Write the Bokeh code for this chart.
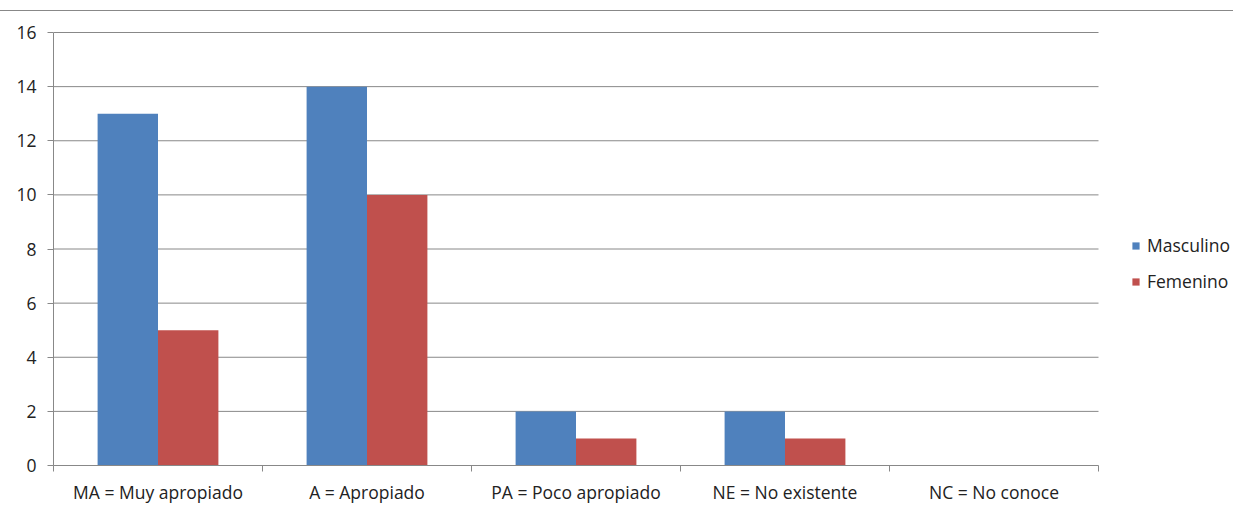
from bokeh.plotting import figure
from bokeh.models import FixedTicker, Legend, LegendItem, ColumnDataSource
from bokeh.transform import dodge
from bokeh.embed import file_html
from bokeh.resources import INLINE

categories = ["MA = Muy apropiado", "A = Apropiado", "PA = Poco apropiado",
              "NE = No existente", "NC = No conoce"]
masculino = [13, 14, 2, 2, 0]
femenino = [5, 10, 1, 1, 0]
series_names = ["Masculino", "Femenino"]
y_ticks = [0, 2, 4, 6, 8, 10, 12, 14, 16]

BLUE = "#4F81BD"
RED = "#C0504D"
GRID = "#888888"
TXT = "#222222"
FONT = "Open Sans"
FS = "17.5px"

n = len(categories)
PLOT_W, FRAME_L, FRAME_R = 1233, 53, 1098
# frame extends to the right edge so the legend (drawn inside the frame) is visible;
# the axis and grid stop at the last category.
x_end = n * (PLOT_W - FRAME_L) / (FRAME_R - FRAME_L)

centers = [i + 0.5 for i in range(n)]
src = ColumnDataSource(dict(x=centers, m=masculino, f=femenino))

p = figure(width=PLOT_W, height=495, output_backend="svg", toolbar_location=None,
           x_range=(0, x_end), y_range=(0, 16.037),
           min_border_left=FRAME_L, min_border_right=0, min_border_top=20,
           min_border_bottom=38)
p.outline_line_color = None
p.background_fill_color = "white"
p.styles = {"border-top": "1px solid #888888", "margin-top": "10px"}

# horizontal grid lines, limited to the category span
grid_src = ColumnDataSource(dict(y=y_ticks[1:], x0=[0] * (len(y_ticks) - 1),
                                 x1=[n] * (len(y_ticks) - 1)))
p.segment(x0="x0", x1="x1", y0="y", y1="y", source=grid_src,
          line_color=GRID, line_width=1)

bw = 0.289
r1 = p.vbar(x=dodge("x", -bw / 2), top="m", width=bw, source=src,
            fill_color=BLUE, line_color=None)
r2 = p.vbar(x=dodge("x", bw / 2), top="f", width=bw, source=src,
            fill_color=RED, line_color=None)

# x axis
p.xaxis.ticker = FixedTicker(ticks=centers, minor_ticks=list(range(n + 1)))
p.xaxis.bounds = (0, n)
p.xaxis.major_label_overrides = {c: categories[i] for i, c in enumerate(centers)}
p.xaxis.major_tick_line_color = None
p.xaxis.major_tick_out = 0
p.xaxis.minor_tick_out = 6
p.xaxis.minor_tick_in = 0
p.xaxis.minor_tick_line_color = GRID
p.xaxis.axis_line_color = GRID
p.xaxis.major_label_standoff = 8
p.xaxis.major_label_text_font = FONT
p.xaxis.major_label_text_font_size = FS
p.xaxis.major_label_text_color = TXT

# y axis
p.yaxis.ticker = FixedTicker(ticks=y_ticks)
p.yaxis.bounds = (0, 16)
p.yaxis.axis_line_color = GRID
p.yaxis.major_tick_line_color = GRID
p.yaxis.major_tick_out = 6
p.yaxis.major_tick_in = 0
p.yaxis.minor_tick_line_color = None
p.yaxis.major_label_standoff = 11
p.yaxis.major_label_text_font = FONT
p.yaxis.major_label_text_font_size = FS
p.yaxis.major_label_text_color = TXT

p.xgrid.grid_line_color = None
p.ygrid.grid_line_color = None

legend = Legend(items=[LegendItem(label=series_names[0], renderers=[r1]),
                       LegendItem(label=series_names[1], renderers=[r2])],
                location=(1131 - FRAME_L, 172), border_line_color=None,
                background_fill_alpha=0, padding=0, margin=0,
                glyph_width=9, glyph_height=9, label_standoff=7, spacing=12,
                label_text_font=FONT, label_text_font_size=FS,
                label_text_color=TXT)
p.add_layout(legend, "center")

open("out.html", "w").write(file_html(p, INLINE))
